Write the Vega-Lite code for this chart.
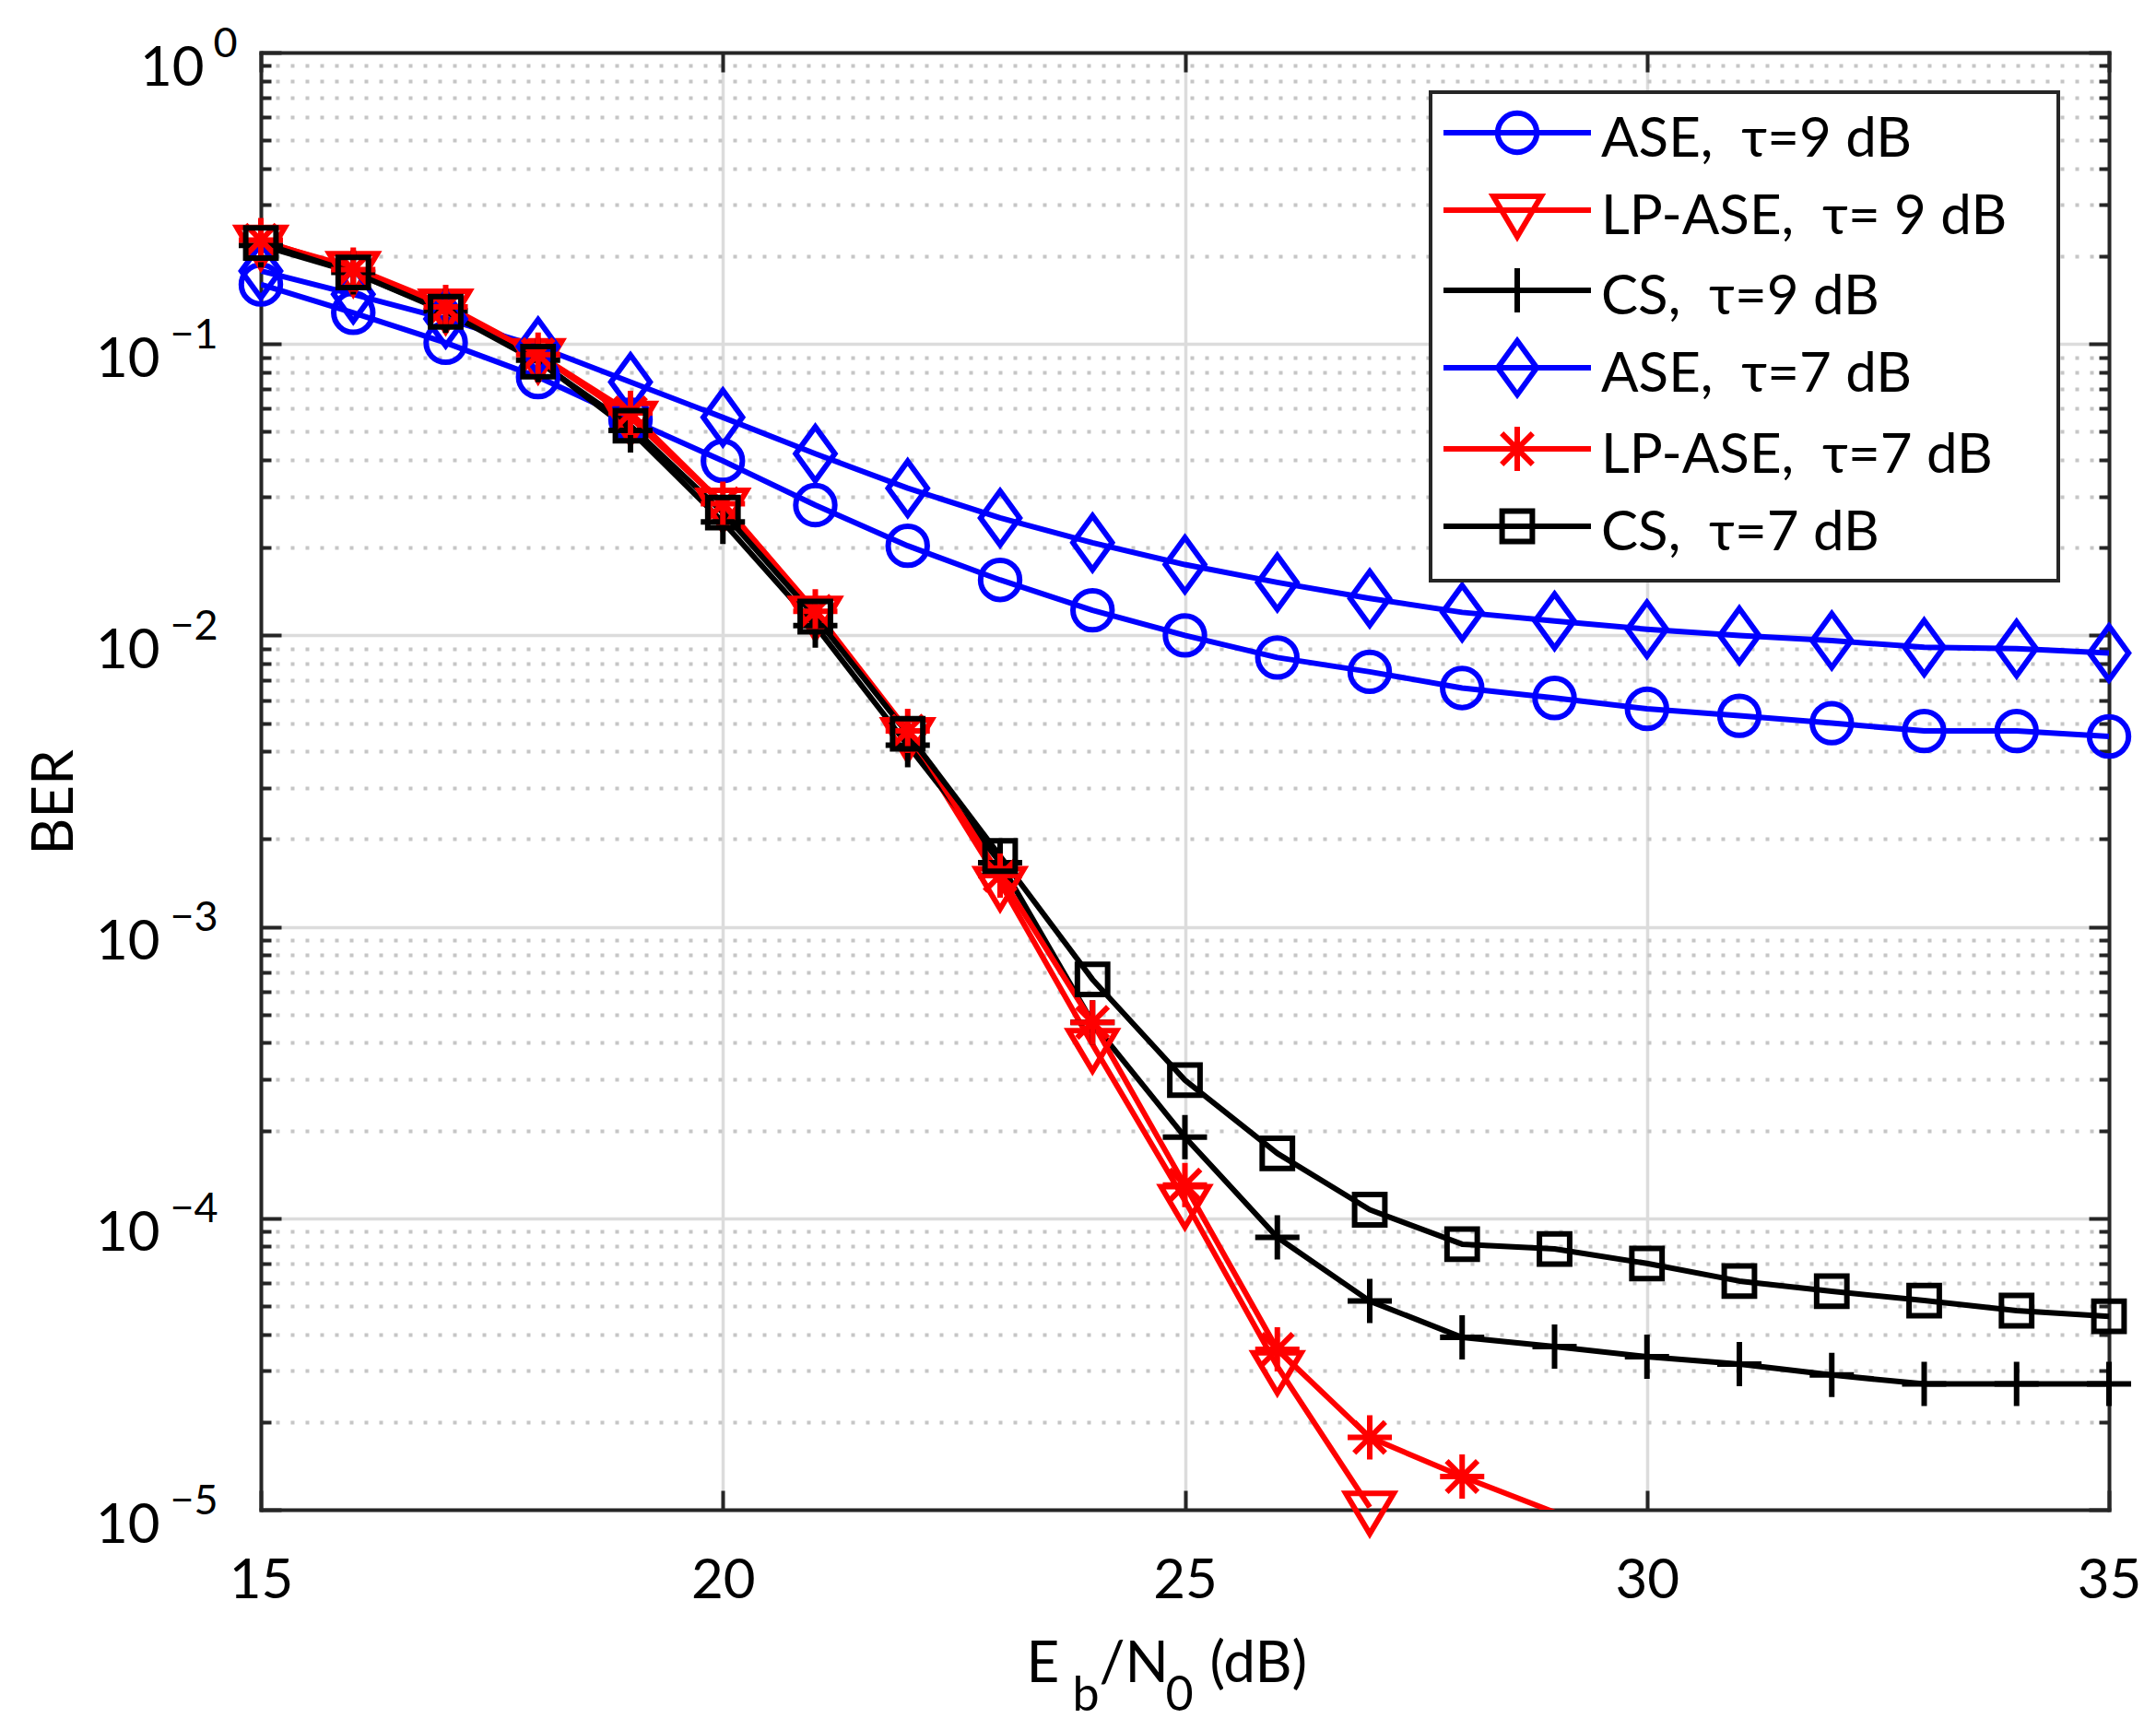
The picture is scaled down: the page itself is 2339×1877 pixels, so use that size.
{
  "$schema": "https://vega.github.io/schema/vega-lite/v6.json",
  "width": 2005,
  "height": 1581,
  "autosize": {"type": "none"},
  "padding": {"left": 283, "top": 57, "right": 51, "bottom": 239},
  "background": "white",
  "config": {
    "view": {"stroke": null},
    "font": "Lato",
    "axis": {
      "labelFont": "Lato", "titleFont": "Lato", "labelColor": "#000000", "titleColor": "#000000",
      "titleFontWeight": "normal", "domainColor": "#262626", "domainWidth": 4, "domainCap": "square",
      "tickColor": "#262626", "tickWidth": 4, "labelFlush": false, "labelOverlap": false, "labelBound": false,
      "titleAlign": "left", "titleBaseline": "alphabetic"
    },
    "legend": {
      "labelFont": "Lato", "labelFontSize": 60, "labelColor": "#000000", "labelLimit": 3000,
      "labelBaseline": "middle", "symbolSize": 6400, "symbolStrokeWidth": 6, "symbolOffset": 42,
      "labelOffset": 48, "padding": 9, "rowPadding": -6, "strokeColor": "#262626", "strokeWidth": 4,
      "fillColor": "white", "cornerRadius": 0
    }
  },
  "data": {"values": [
    {"s": "ASE,\u00a0 τ=9 dB", "x": 15, "ber": 0.160}, {"s": "ASE,\u00a0 τ=9 dB", "x": 16, "ber": 0.128},
    {"s": "ASE,\u00a0 τ=9 dB", "x": 17, "ber": 0.101}, {"s": "ASE,\u00a0 τ=9 dB", "x": 18, "ber": 0.077},
    {"s": "ASE,\u00a0 τ=9 dB", "x": 19, "ber": 0.055}, {"s": "ASE,\u00a0 τ=9 dB", "x": 20, "ber": 0.0397},
    {"s": "ASE,\u00a0 τ=9 dB", "x": 21, "ber": 0.0280}, {"s": "ASE,\u00a0 τ=9 dB", "x": 22, "ber": 0.0203},
    {"s": "ASE,\u00a0 τ=9 dB", "x": 23, "ber": 0.0155}, {"s": "ASE,\u00a0 τ=9 dB", "x": 24, "ber": 0.0122},
    {"s": "ASE,\u00a0 τ=9 dB", "x": 25, "ber": 0.0100}, {"s": "ASE,\u00a0 τ=9 dB", "x": 26, "ber": 0.0084},
    {"s": "ASE,\u00a0 τ=9 dB", "x": 27, "ber": 0.0075}, {"s": "ASE,\u00a0 τ=9 dB", "x": 28, "ber": 0.0066},
    {"s": "ASE,\u00a0 τ=9 dB", "x": 29, "ber": 0.0061}, {"s": "ASE,\u00a0 τ=9 dB", "x": 30, "ber": 0.0056},
    {"s": "ASE,\u00a0 τ=9 dB", "x": 31, "ber": 0.0053}, {"s": "ASE,\u00a0 τ=9 dB", "x": 32, "ber": 0.0050},
    {"s": "ASE,\u00a0 τ=9 dB", "x": 33, "ber": 0.0047}, {"s": "ASE,\u00a0 τ=9 dB", "x": 34, "ber": 0.0047},
    {"s": "ASE,\u00a0 τ=9 dB", "x": 35, "ber": 0.0045},

    {"s": "LP-ASE,\u00a0 τ=\u00a09 dB", "x": 15, "ber": 0.225}, {"s": "LP-ASE,\u00a0 τ=\u00a09 dB", "x": 16, "ber": 0.183},
    {"s": "LP-ASE,\u00a0 τ=\u00a09 dB", "x": 17, "ber": 0.136}, {"s": "LP-ASE,\u00a0 τ=\u00a09 dB", "x": 18, "ber": 0.092},
    {"s": "LP-ASE,\u00a0 τ=\u00a09 dB", "x": 19, "ber": 0.056}, {"s": "LP-ASE,\u00a0 τ=\u00a09 dB", "x": 20, "ber": 0.0282},
    {"s": "LP-ASE,\u00a0 τ=\u00a09 dB", "x": 21, "ber": 0.0120}, {"s": "LP-ASE,\u00a0 τ=\u00a09 dB", "x": 22, "ber": 0.0046},
    {"s": "LP-ASE,\u00a0 τ=\u00a09 dB", "x": 23, "ber": 0.00142}, {"s": "LP-ASE,\u00a0 τ=\u00a09 dB", "x": 24, "ber": 0.000395},
    {"s": "LP-ASE,\u00a0 τ=\u00a09 dB", "x": 25, "ber": 0.000115}, {"s": "LP-ASE,\u00a0 τ=\u00a09 dB", "x": 26, "ber": 0.0000310},
    {"s": "LP-ASE,\u00a0 τ=\u00a09 dB", "x": 27, "ber": 0.0000102},

    {"s": "CS,\u00a0 τ=9 dB", "x": 15, "ber": 0.218}, {"s": "CS,\u00a0 τ=9 dB", "x": 16, "ber": 0.176},
    {"s": "CS,\u00a0 τ=9 dB", "x": 17, "ber": 0.130}, {"s": "CS,\u00a0 τ=9 dB", "x": 18, "ber": 0.088},
    {"s": "CS,\u00a0 τ=9 dB", "x": 19, "ber": 0.0505}, {"s": "CS,\u00a0 τ=9 dB", "x": 20, "ber": 0.0245},
    {"s": "CS,\u00a0 τ=9 dB", "x": 21, "ber": 0.0108}, {"s": "CS,\u00a0 τ=9 dB", "x": 22, "ber": 0.0042},
    {"s": "CS,\u00a0 τ=9 dB", "x": 23, "ber": 0.00166}, {"s": "CS,\u00a0 τ=9 dB", "x": 24, "ber": 0.00047},
    {"s": "CS,\u00a0 τ=9 dB", "x": 25, "ber": 0.000190}, {"s": "CS,\u00a0 τ=9 dB", "x": 26, "ber": 0.0000860},
    {"s": "CS,\u00a0 τ=9 dB", "x": 27, "ber": 0.0000520}, {"s": "CS,\u00a0 τ=9 dB", "x": 28, "ber": 0.0000390},
    {"s": "CS,\u00a0 τ=9 dB", "x": 29, "ber": 0.0000363}, {"s": "CS,\u00a0 τ=9 dB", "x": 30, "ber": 0.0000335},
    {"s": "CS,\u00a0 τ=9 dB", "x": 31, "ber": 0.0000316}, {"s": "CS,\u00a0 τ=9 dB", "x": 32, "ber": 0.0000290},
    {"s": "CS,\u00a0 τ=9 dB", "x": 33, "ber": 0.0000270}, {"s": "CS,\u00a0 τ=9 dB", "x": 34, "ber": 0.0000270},
    {"s": "CS,\u00a0 τ=9 dB", "x": 35, "ber": 0.0000270},

    {"s": "ASE,\u00a0 τ=7 dB", "x": 15, "ber": 0.178}, {"s": "ASE,\u00a0 τ=7 dB", "x": 16, "ber": 0.148},
    {"s": "ASE,\u00a0 τ=7 dB", "x": 17, "ber": 0.122}, {"s": "ASE,\u00a0 τ=7 dB", "x": 18, "ber": 0.098},
    {"s": "ASE,\u00a0 τ=7 dB", "x": 19, "ber": 0.074}, {"s": "ASE,\u00a0 τ=7 dB", "x": 20, "ber": 0.056},
    {"s": "ASE,\u00a0 τ=7 dB", "x": 21, "ber": 0.042}, {"s": "ASE,\u00a0 τ=7 dB", "x": 22, "ber": 0.0320},
    {"s": "ASE,\u00a0 τ=7 dB", "x": 23, "ber": 0.0253}, {"s": "ASE,\u00a0 τ=7 dB", "x": 24, "ber": 0.0208},
    {"s": "ASE,\u00a0 τ=7 dB", "x": 25, "ber": 0.0175}, {"s": "ASE,\u00a0 τ=7 dB", "x": 26, "ber": 0.0152},
    {"s": "ASE,\u00a0 τ=7 dB", "x": 27, "ber": 0.0134}, {"s": "ASE,\u00a0 τ=7 dB", "x": 28, "ber": 0.0120},
    {"s": "ASE,\u00a0 τ=7 dB", "x": 29, "ber": 0.0112}, {"s": "ASE,\u00a0 τ=7 dB", "x": 30, "ber": 0.0105},
    {"s": "ASE,\u00a0 τ=7 dB", "x": 31, "ber": 0.0100}, {"s": "ASE,\u00a0 τ=7 dB", "x": 32, "ber": 0.0096},
    {"s": "ASE,\u00a0 τ=7 dB", "x": 33, "ber": 0.0091}, {"s": "ASE,\u00a0 τ=7 dB", "x": 34, "ber": 0.0090},
    {"s": "ASE,\u00a0 τ=7 dB", "x": 35, "ber": 0.0087},

    {"s": "LP-ASE,\u00a0 τ=7 dB", "x": 15, "ber": 0.227}, {"s": "LP-ASE,\u00a0 τ=7 dB", "x": 16, "ber": 0.180},
    {"s": "LP-ASE,\u00a0 τ=7 dB", "x": 17, "ber": 0.134}, {"s": "LP-ASE,\u00a0 τ=7 dB", "x": 18, "ber": 0.092},
    {"s": "LP-ASE,\u00a0 τ=7 dB", "x": 19, "ber": 0.058}, {"s": "LP-ASE,\u00a0 τ=7 dB", "x": 20, "ber": 0.0283},
    {"s": "LP-ASE,\u00a0 τ=7 dB", "x": 21, "ber": 0.0121}, {"s": "LP-ASE,\u00a0 τ=7 dB", "x": 22, "ber": 0.0047},
    {"s": "LP-ASE,\u00a0 τ=7 dB", "x": 23, "ber": 0.00150}, {"s": "LP-ASE,\u00a0 τ=7 dB", "x": 24, "ber": 0.00047},
    {"s": "LP-ASE,\u00a0 τ=7 dB", "x": 25, "ber": 0.000130}, {"s": "LP-ASE,\u00a0 τ=7 dB", "x": 26, "ber": 0.0000355},
    {"s": "LP-ASE,\u00a0 τ=7 dB", "x": 27, "ber": 0.0000177}, {"s": "LP-ASE,\u00a0 τ=7 dB", "x": 28, "ber": 0.0000130},
    {"s": "LP-ASE,\u00a0 τ=7 dB", "x": 29, "ber": 0.0000098},

    {"s": "CS,\u00a0 τ=7 dB", "x": 15, "ber": 0.222}, {"s": "CS,\u00a0 τ=7 dB", "x": 16, "ber": 0.176},
    {"s": "CS,\u00a0 τ=7 dB", "x": 17, "ber": 0.129}, {"s": "CS,\u00a0 τ=7 dB", "x": 18, "ber": 0.087},
    {"s": "CS,\u00a0 τ=7 dB", "x": 19, "ber": 0.0524}, {"s": "CS,\u00a0 τ=7 dB", "x": 20, "ber": 0.0264},
    {"s": "CS,\u00a0 τ=7 dB", "x": 21, "ber": 0.0116}, {"s": "CS,\u00a0 τ=7 dB", "x": 22, "ber": 0.0046},
    {"s": "CS,\u00a0 τ=7 dB", "x": 23, "ber": 0.00175}, {"s": "CS,\u00a0 τ=7 dB", "x": 24, "ber": 0.00066},
    {"s": "CS,\u00a0 τ=7 dB", "x": 25, "ber": 0.000298}, {"s": "CS,\u00a0 τ=7 dB", "x": 26, "ber": 0.000167},
    {"s": "CS,\u00a0 τ=7 dB", "x": 27, "ber": 0.000107}, {"s": "CS,\u00a0 τ=7 dB", "x": 28, "ber": 0.0000815},
    {"s": "CS,\u00a0 τ=7 dB", "x": 29, "ber": 0.0000785}, {"s": "CS,\u00a0 τ=7 dB", "x": 30, "ber": 0.0000700},
    {"s": "CS,\u00a0 τ=7 dB", "x": 31, "ber": 0.0000609}, {"s": "CS,\u00a0 τ=7 dB", "x": 32, "ber": 0.0000562},
    {"s": "CS,\u00a0 τ=7 dB", "x": 33, "ber": 0.0000522}, {"s": "CS,\u00a0 τ=7 dB", "x": 34, "ber": 0.0000482},
    {"s": "CS,\u00a0 τ=7 dB", "x": 35, "ber": 0.0000461}
  ]},
  "layer": [
    {
      "mark": {"type": "line", "clip": true, "strokeWidth": 6, "strokeJoin": "round"},
      "encoding": {
        "x": {
          "field": "x", "type": "quantitative",
          "scale": {"domain": [15, 35], "nice": false, "zero": false},
          "axis": {
            "orient": "bottom", "values": [15, 20, 25, 30, 35], "ticks": false, "grid": false, "domain": true,
            "labelFontSize": 60, "labelPadding": 95, "labelBaseline": "alphabetic", "labelAlign": "center",
            "title": "E", "titleFontSize": 62, "titleX": 830, "titleY": 186
          }
        },
        "y": {
          "field": "ber", "type": "quantitative",
          "scale": {"type": "log", "domain": [0.00001, 1], "nice": false},
          "axis": {
            "orient": "left", "values": [0.00001, 0.0001, 0.001, 0.01, 0.1, 1],
            "ticks": false, "grid": false, "domain": true,
            "labelExpr": "'10'", "labelFontSize": 60, "labelAlign": "right", "labelBaseline": "alphabetic",
            "labelOffset": 35,
            "labelPadding": {"condition": {"test": "datum.value > 0.5", "value": 62}, "value": 110},
            "title": "BER", "titleFontSize": 62, "titleAngle": 270, "titleAlign": "center",
            "titleX": -205, "titleY": 813
          }
        },
        "color": {
          "field": "s", "type": "nominal", "legend": null,
          "scale": {
            "domain": ["ASE,\u00a0 τ=9 dB", "LP-ASE,\u00a0 τ=\u00a09 dB", "CS,\u00a0 τ=9 dB", "ASE,\u00a0 τ=7 dB", "LP-ASE,\u00a0 τ=7 dB", "CS,\u00a0 τ=7 dB"],
            "range": ["#0000ff", "#ff0000", "#000000", "#0000ff", "#ff0000", "#000000"]
          }
        }
      }
    },
    {
      "transform": [{"filter": "datum.ber >= 0.00001"}],
      "mark": {"type": "point", "filled": false, "strokeWidth": 6, "size": 6400, "opacity": 1},
      "encoding": {
        "x": {
          "field": "x", "type": "quantitative",
          "axis": {
            "orient": "bottom", "values": [15, 20, 25, 30, 35], "labels": false, "domain": false,
            "ticks": true, "tickSize": -21, "grid": true, "gridColor": "#dcdcdc", "gridWidth": 3.5,
            "title": "b", "titleFontSize": 52, "titleX": 880, "titleY": 217
          }
        },
        "y": {
          "field": "ber", "type": "quantitative",
          "axis": {
            "orient": "left",
            "values": [0.00001, 0.00002, 0.00003, 0.00004, 0.00005, 0.00006, 0.00007, 0.00008, 0.00009,
                       0.0001, 0.0002, 0.0003, 0.0004, 0.0005, 0.0006, 0.0007, 0.0008, 0.0009,
                       0.001, 0.002, 0.003, 0.004, 0.005, 0.006, 0.007, 0.008, 0.009,
                       0.01, 0.02, 0.03, 0.04, 0.05, 0.06, 0.07, 0.08, 0.09,
                       0.1, 0.2, 0.3, 0.4, 0.5, 0.6, 0.7, 0.8, 0.9, 1],
            "labels": false, "domain": false, "ticks": true,
            "tickSize": {"condition": {"test": "abs(log(datum.value)/LN10 - round(log(datum.value)/LN10)) < 0.01", "value": -22}, "value": -11},
            "grid": true,
            "gridColor": {"condition": {"test": "abs(log(datum.value)/LN10 - round(log(datum.value)/LN10)) < 0.01", "value": "#dcdcdc"}, "value": "#c6c6c6"},
            "gridDash": {"condition": {"test": "abs(log(datum.value)/LN10 - round(log(datum.value)/LN10)) < 0.01", "value": []}, "value": [4, 12]},
            "gridWidth": {"condition": {"test": "abs(log(datum.value)/LN10 - round(log(datum.value)/LN10)) < 0.01", "value": 3.5}, "value": 4},
            "title": "(dB)", "titleFontSize": 62, "titleAngle": 0, "titleX": 1029, "titleY": 1767
          }
        },
        "color": {
          "field": "s", "type": "nominal", "legend": null,
          "scale": {
            "domain": ["ASE,\u00a0 τ=9 dB", "LP-ASE,\u00a0 τ=\u00a09 dB", "CS,\u00a0 τ=9 dB", "ASE,\u00a0 τ=7 dB", "LP-ASE,\u00a0 τ=7 dB", "CS,\u00a0 τ=7 dB"],
            "range": ["#0000ff", "#ff0000", "#000000", "#0000ff", "#ff0000", "#000000"]
          }
        },
        "shape": {
          "field": "s", "type": "nominal", "legend": null,
          "scale": {
            "domain": ["ASE,\u00a0 τ=9 dB", "LP-ASE,\u00a0 τ=\u00a09 dB", "CS,\u00a0 τ=9 dB", "ASE,\u00a0 τ=7 dB", "LP-ASE,\u00a0 τ=7 dB", "CS,\u00a0 τ=7 dB"],
            "range": [
              "M-0.53,0A0.53,0.53 0 1,0 0.53,0A0.53,0.53 0 1,0 -0.53,0Z",
              "M-0.65,-0.375H0.65L0,0.72Z",
              "M-0.6,0H0.6M0,-0.6V0.6",
              "M0,-0.73L0.53,0L0,0.73L-0.53,0Z",
              "M-0.6,0H0.6M0,-0.6V0.6M-0.42,-0.42L0.42,0.42M-0.42,0.42L0.42,-0.42",
              "M-0.41,-0.41H0.41V0.41H-0.41Z"
            ]
          }
        }
      }
    },
    {
      "transform": [{"filter": "false"}],
      "mark": {"type": "point", "filled": false, "strokeWidth": 6, "size": 6400, "opacity": 1},
      "encoding": {
        "x": {
          "field": "x", "type": "quantitative",
          "axis": {
            "orient": "top", "values": [15, 20, 25, 30, 35], "labels": false, "domain": true,
            "ticks": true, "tickSize": -21, "grid": false,
            "title": "/N", "titleFontSize": 62, "titleX": 909, "titleY": 1767
          }
        },
        "y": {
          "field": "ber", "type": "quantitative",
          "axis": {
            "orient": "left", "values": [0.00001, 0.0001, 0.001, 0.01, 0.1, 1],
            "ticks": false, "grid": false, "domain": false,
            "labelExpr": "round(log(datum.value)/LN10) == 0 ? '0' : '\u2212' + (-round(log(datum.value)/LN10))",
            "labelFontSize": 45, "labelAlign": "left", "labelBaseline": "alphabetic", "labelOffset": 4,
            "labelPadding": {"condition": {"test": "datum.value > 0.5", "value": 52}, "value": 99},
            "title": "0", "titleFontSize": 52, "titleAngle": 0, "titleX": 981, "titleY": 1798
          }
        },
        "color": {
          "field": "s", "type": "nominal",
          "legend": {"orient": "none", "legendX": 1269, "legendY": 43, "title": null,
                     "labelExpr": "datum.label + '\u00a0\u00a0\u00a0\u200b'"},
          "scale": {
            "domain": ["ASE,\u00a0 τ=9 dB", "LP-ASE,\u00a0 τ=\u00a09 dB", "CS,\u00a0 τ=9 dB", "ASE,\u00a0 τ=7 dB", "LP-ASE,\u00a0 τ=7 dB", "CS,\u00a0 τ=7 dB"],
            "range": ["#0000ff", "#ff0000", "#000000", "#0000ff", "#ff0000", "#000000"]
          }
        },
        "shape": {
          "field": "s", "type": "nominal",
          "legend": {"orient": "none", "legendX": 1269, "legendY": 43, "title": null,
                     "labelExpr": "datum.label + '\u00a0\u00a0\u00a0\u200b'"},
          "scale": {
            "domain": ["ASE,\u00a0 τ=9 dB", "LP-ASE,\u00a0 τ=\u00a09 dB", "CS,\u00a0 τ=9 dB", "ASE,\u00a0 τ=7 dB", "LP-ASE,\u00a0 τ=7 dB", "CS,\u00a0 τ=7 dB"],
            "range": [
              "M0,-1.2M0,0.33M-2,-0.2H2M-0.53,-0.2A0.53,0.53 0 1,0 0.53,-0.2A0.53,0.53 0 1,0 -0.53,-0.2Z",
              "M0,-1.2M0,0.33M-2,-0.2H2M-0.65,-0.575H0.65L0,0.52Z",
              "M0,-1.2M0,0.33M-2,-0.2H2M0,-0.8V0.4",
              "M0,-1.2M0,0.33M-2,-0.2H2M0,-0.93L0.53,-0.2L0,0.53L-0.53,-0.2Z",
              "M0,-1.2M0,0.33M-2,-0.2H2M0,-0.8V0.4M-0.42,-0.62L0.42,0.22M-0.42,0.22L0.42,-0.62",
              "M0,-1.2M0,0.75M-2,-0.2H2M-0.41,-0.61H0.41V0.21H-0.41Z"
            ]
          }
        }
      }
    },
    {
      "transform": [{"filter": "false"}],
      "mark": {"type": "point"},
      "encoding": {
        "x": {"field": "x", "type": "quantitative", "axis": null},
        "y": {
          "field": "ber", "type": "quantitative",
          "axis": {
            "orient": "right",
            "values": [0.00001, 0.00002, 0.00003, 0.00004, 0.00005, 0.00006, 0.00007, 0.00008, 0.00009,
                       0.0001, 0.0002, 0.0003, 0.0004, 0.0005, 0.0006, 0.0007, 0.0008, 0.0009,
                       0.001, 0.002, 0.003, 0.004, 0.005, 0.006, 0.007, 0.008, 0.009,
                       0.01, 0.02, 0.03, 0.04, 0.05, 0.06, 0.07, 0.08, 0.09,
                       0.1, 0.2, 0.3, 0.4, 0.5, 0.6, 0.7, 0.8, 0.9, 1],
            "labels": false, "grid": false, "domain": true, "ticks": true,
            "tickSize": {"condition": {"test": "abs(log(datum.value)/LN10 - round(log(datum.value)/LN10)) < 0.01", "value": -22}, "value": -11},
            "title": null
          }
        }
      }
    }
  ],
  "resolve": {
    "axis": {"x": "independent", "y": "independent"},
    "scale": {"color": "independent", "shape": "independent"}
  }
}
